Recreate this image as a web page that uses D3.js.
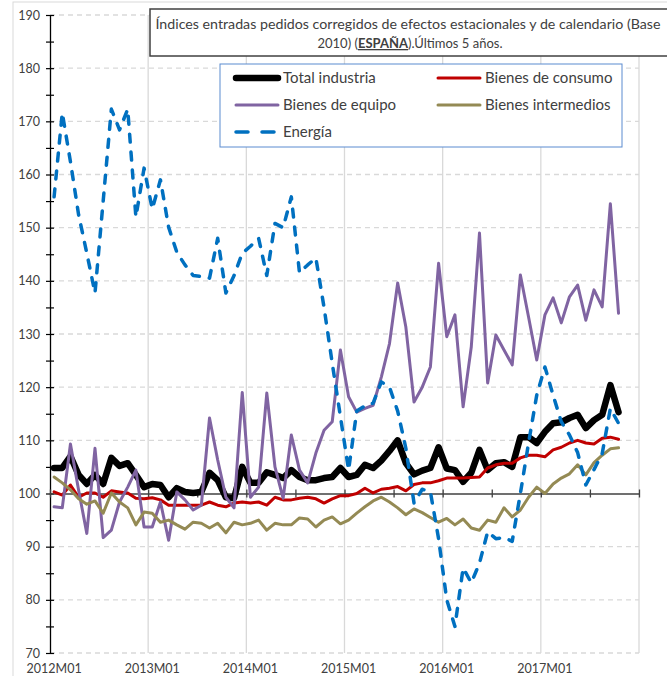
<!DOCTYPE html>
<html>
<head>
<meta charset="utf-8">
<script src="https://cdn.jsdelivr.net/npm/d3@7/dist/d3.min.js"></script>
<style>
body { margin: 0; background: #fff; }
svg text { font-family: Lato, "Liberation Sans", sans-serif; fill: #404040; }
</style>
</head>
<body>
<svg id="chart" width="667" height="676"></svg>
<script>
// categories: monthly 2012M01 .. 2017M12 (axis), data up to 2017M10
const years = [2012, 2013, 2014, 2015, 2016, 2017];
const months = [];
years.forEach(y => { for (let m = 1; m <= 12; m++) months.push(y + "M" + (m < 10 ? "0" : "") + m); });
const xTickLabels = ["2012M01", "2013M01", "2014M01", "2015M01", "2016M01", "2017M01"];
const yTickLabels = [70, 80, 90, 100, 110, 120, 130, 140, 150, 160, 170, 180, 190];

const seriesNames = ["Total industria", "Bienes de consumo", "Bienes de equipo", "Bienes intermedios", "Energía"];

const total = [104.8,104.8,107.0,103.5,101.8,103.5,101.8,106.7,105.2,105.7,
  103.5,101.2,101.8,101.6,99.3,101.0,100.3,100.1,100.3,103.9,
  102.5,99.3,99.1,105.0,102.0,102.0,104.0,103.5,102.9,104.4,
  103.1,102.5,102.5,102.9,103.1,104.8,103.1,103.5,105.4,104.8,
  106.2,108.0,110.0,105.7,103.6,104.3,104.8,108.7,104.7,104.4,
  102.2,103.9,108.2,104.4,105.7,105.9,105.0,110.6,110.6,109.5,
  111.6,113.2,113.4,114.2,114.8,112.3,113.8,114.8,120.4,115.3];

const consumo = [100.3,99.7,101.6,99.3,100.1,100.1,99.3,100.5,100.3,100.1,
  99.1,99.0,99.2,98.8,97.8,97.8,97.8,97.8,97.8,98.4,
  97.8,97.5,98.2,98.4,98.2,98.4,97.8,99.3,98.8,98.8,
  99.1,99.3,99.0,98.2,99.0,99.6,99.6,100.0,101.0,100.1,
  100.8,101.0,101.3,100.5,101.7,102.0,102.0,102.4,102.9,102.9,
  102.9,103.0,103.1,104.8,105.4,105.7,105.7,106.7,107.2,107.2,
  106.9,108.2,108.7,109.5,110.0,109.5,109.3,110.4,110.6,110.2];

const equipo = [97.5,97.3,109.3,100.6,92.5,108.5,91.7,93.1,98.4,101.2,
  104.4,93.7,93.7,98.4,91.2,100.3,98.8,96.9,97.8,114.2,
  106.3,99.3,97.3,119.0,99.3,101.2,118.9,105.0,99.1,111.0,
  104.4,102.0,107.6,111.9,113.5,127.0,118.2,115.3,116.0,116.6,
  121.9,128.2,139.6,131.3,117.2,120.0,123.8,143.3,129.5,133.6,
  116.3,127.6,149.0,120.8,129.8,127.0,124.2,141.1,133.2,125.1,
  133.6,136.8,132.1,137.0,139.2,132.6,138.3,135.1,154.5,133.9];

const intermedios = [103.1,102.0,100.7,99.0,98.0,98.6,96.3,100.1,98.4,97.3,
  94.1,96.5,96.3,94.6,95.0,94.1,93.3,94.6,94.4,93.5,
  94.4,92.6,94.6,94.1,94.4,95.0,93.1,94.4,94.1,94.1,
  95.4,95.2,93.7,95.0,95.6,94.3,95.0,96.3,97.5,98.6,
  99.3,98.4,97.3,96.0,97.1,96.4,95.5,94.6,95.3,94.1,
  95.2,93.5,93.1,95.0,94.6,97.3,95.6,96.9,99.3,101.2,
  100.0,101.8,102.9,103.7,105.4,103.5,105.8,107.2,108.4,108.6];

const energia = [155.8,171.6,162.4,152.4,145.2,137.7,155.0,172.3,168.4,172.3,
  152.0,161.2,153.5,159.0,150.1,145.4,143.0,141.0,140.8,140.5,
  148.0,137.7,141.0,145.2,146.5,148.0,141.0,150.8,150.0,155.8,
  141.5,143.0,144.3,135.0,124.5,114.5,104.4,115.5,116.5,117.0,
  121.0,120.0,115.5,108.5,98.2,100.8,100.3,91.5,80.0,75.0,
  86.0,83.2,86.9,92.8,91.5,91.7,91.0,100.0,109.5,118.5,
  123.8,118.5,113.5,111.0,107.7,101.6,104.5,107.5,116.0,113.2];

const svg = d3.select("#chart");

// plot area
const plotLeft = 50, plotRight = 639, plotTop = 15, plotBottom = 653;

const x = d3.scaleLinear().domain([0, months.length]).range([plotLeft, plotRight]);
const y = d3.scaleLinear().domain([70, 190]).range([plotBottom, plotTop]);

// chart border (light)
svg.append("rect").attr("x", 13).attr("y", 2).attr("width", 700).attr("height", 700)
  .attr("fill", "none").attr("stroke", "#d9d9d9").attr("stroke-width", 1);

// vertical gridlines, one per year
svg.append("g").selectAll("line")
  .data(d3.range(12, months.length + 1, 12))
  .enter().append("line")
    .attr("x1", d => x(d)).attr("x2", d => x(d))
    .attr("y1", plotTop).attr("y2", plotBottom)
    .attr("stroke", "#d9d9d9").attr("stroke-width", 1.3);

// horizontal dashed gridlines
svg.append("g").selectAll("line")
  .data(yTickLabels.filter(v => v !== 100))
  .enter().append("line")
    .attr("x1", plotLeft).attr("x2", plotRight)
    .attr("y1", d => y(d)).attr("y2", d => y(d))
    .attr("stroke", "#d9d9d9").attr("stroke-width", 1.3)
    .attr("stroke-dasharray", "5,4");

// y axis
const yAxis = d3.axisLeft(y)
  .tickValues(d3.range(70, 191, 5))
  .tickSize(4).tickSizeOuter(0).tickPadding(6)
  .tickFormat(v => yTickLabels.includes(v) ? v : "");

const gy = svg.append("g").attr("transform", "translate(" + plotLeft + ",0)").call(yAxis);
gy.select(".domain").attr("stroke", "#000").attr("stroke-width", 1.3);
gy.selectAll(".tick line").attr("x1", 4).attr("stroke", "#000").attr("stroke-width", 1.2);
gy.selectAll(".tick text").attr("font-size", 12.5).attr("font-family", "Lato").attr("fill", "#404040");

// horizontal axis crossing at 100
const xAxis = d3.axisBottom(x)
  .tickValues(d3.range(0, months.length + 1, 6))
  .tickSize(4).tickSizeOuter(0).tickFormat("");
const gx = svg.append("g").attr("transform", "translate(0," + y(100) + ")").call(xAxis);
gx.select(".domain").attr("stroke", "#404040").attr("stroke-width", 1.5);
gx.selectAll(".tick line").attr("y1", -4).attr("stroke", "#404040").attr("stroke-width", 1.3);

// category labels at the bottom
svg.append("g").selectAll("text")
  .data(xTickLabels)
  .enter().append("text")
    .attr("x", d => x(months.indexOf(d) + 0.5))
    .attr("y", 673)
    .attr("text-anchor", "middle")
    .attr("font-size", 12.5)
    .text(d => d);

// series
const styles = [
  { data: total, color: "#000000", width: 6.5, dash: null },
  { data: consumo, color: "#c00000", width: 3, dash: null },
  { data: equipo, color: "#8064a2", width: 3, dash: null },
  { data: intermedios, color: "#948a54", width: 3, dash: null },
  { data: energia, color: "#0070c0", width: 3.5, dash: "8,10" }
];

const line = d3.line()
  .x((d, i) => x(i + 0.5))
  .y(d => y(d));

styles.forEach(s => {
  svg.append("path")
    .datum(s.data)
    .attr("d", line)
    .attr("fill", "none")
    .attr("stroke", s.color)
    .attr("stroke-width", s.width)
    .attr("stroke-linejoin", "round")
    .attr("stroke-linecap", "round")
    .attr("stroke-dasharray", s.dash);
});

// title box
svg.append("rect").attr("x", 150).attr("y", 9).attr("width", 530).attr("height", 47)
  .attr("fill", "#fff").attr("stroke", "#404040").attr("stroke-width", 1.5);
svg.append("text").attr("x", 408).attr("y", 29).attr("text-anchor", "middle")
  .attr("font-size", 13).attr("textLength", 505).attr("lengthAdjust", "spacingAndGlyphs")
  .text("Índices entradas pedidos corregidos de efectos estacionales y de calendario (Base");
const t2 = svg.append("text").attr("x", 410).attr("y", 48).attr("text-anchor", "middle").attr("font-size", 13);
t2.append("tspan").text("2010) (");
t2.append("tspan").attr("font-weight", "bold").attr("text-decoration", "underline").text("ESPAÑA");
t2.append("tspan").text(").Últimos 5 años.");

// legend
svg.append("rect").attr("x", 220).attr("y", 64).attr("width", 402).attr("height", 83)
  .attr("fill", "#fff").attr("stroke", "#5b8bd0").attr("stroke-width", 1);

const legendPos = [
  { x: 236, y: 78 }, { x: 438, y: 78 },
  { x: 236, y: 105 }, { x: 438, y: 105 },
  { x: 236, y: 132 }
];

const lg = svg.append("g").selectAll("g")
  .data(styles)
  .enter().append("g")
    .attr("transform", (d, i) => "translate(" + legendPos[i].x + "," + legendPos[i].y + ")");

lg.append("line")
  .attr("x1", 0).attr("x2", d => d.dash ? 40 : 42)
  .attr("y1", 0).attr("y2", 0)
  .attr("stroke", d => d.color)
  .attr("stroke-width", d => d.width)
  .attr("stroke-linecap", "round")
  .attr("stroke-dasharray", d => d.dash ? "12,14" : null);

lg.append("text")
  .attr("x", 47).attr("y", 0).attr("dy", "0.35em")
  .attr("font-size", 15)
  .text((d, i) => seriesNames[i]);
</script>
</body>
</html>
